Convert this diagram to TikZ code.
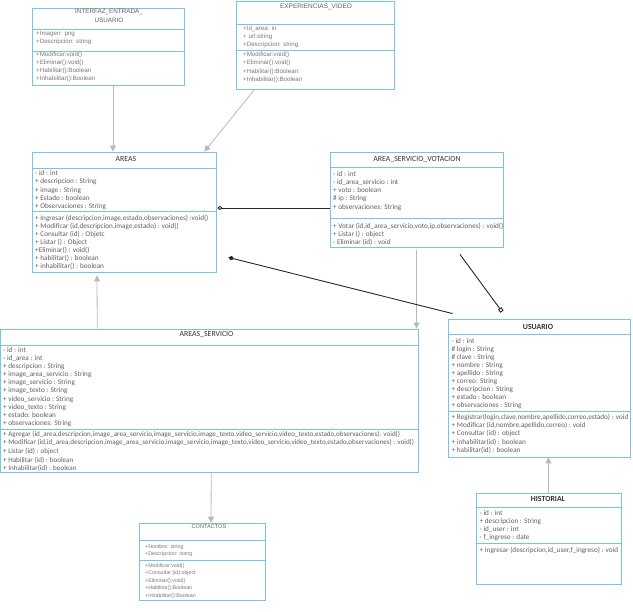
\documentclass[tikz,border=0pt]{standalone}
\usepackage{fontspec}
\setmainfont{Carlito}
\newfontfamily\arialfont{Liberation Sans}
\usetikzlibrary{arrows.meta}
\definecolor{boxblue}{RGB}{120,195,232}
\definecolor{textgrey}{RGB}{95,95,95}
\definecolor{linkgrey}{RGB}{185,185,185}

\begin{document}
\begin{tikzpicture}[x=1pt, y=-1pt,
    classbox/.style={draw=boxblue, line width=0.8pt, inner sep=0pt},
    classline/.style={draw=boxblue, line width=0.8pt},
    classname/.style={inner sep=0pt, text=black!80, font=\fontsize{7.8}{8}\selectfont},
    thin classname/.style={inner sep=0pt, align=center, text=textgrey, font=\arialfont\fontsize{6.3}{8.3}\selectfont},
    members/.style={anchor=base west, align=left, inner sep=0pt, text=textgrey, font=\fontsize{7.2}{8.1}\selectfont},
    thin members/.style={anchor=base west, align=left, inner sep=0pt, text=textgrey!85, font=\arialfont\fontsize{6.2}{8.3}\selectfont},
    inherit/.style={draw=linkgrey, line width=0.8pt, -{Triangle[length=6pt,width=6pt]}},
    assoc/.style={draw=black!85, line width=0.9pt}]
    \useasboundingbox (0,0) rectangle (633,612);

    % INTERFAZ_ENTRADA_USUARIO
    \node[classbox, minimum width=152pt, minimum height=77pt] (interfaz) at (108,46.5) {};
    \draw[classline] (interfaz.west |- 0,29) -- (interfaz.east |- 0,29);
    \draw[classline] (interfaz.west |- 0,51) -- (interfaz.east |- 0,51);
    \node[thin classname] (interfaz name) at (109,16) {INTERFAZ\_ENTRADA\_\\USUARIO};
    \node[thin members] (interfaz attrs) at (36,43.5) {+Imagen: png\\+Descripcion: string};
    \node[thin members, font=\arialfont\fontsize{6.2}{7.8}\selectfont] (interfaz ops) at (36,80.4)
        {+Modificar:void()\\+Eliminar():void()\\+Habilitar():Boolean\\+Inhabilitar():Boolean};

    % EXPERIENCIAS_VIDEO
    \node[classbox, minimum width=158pt, minimum height=87.5pt] (exper) at (315,45.25) {};
    \draw[classline] (exper.west |- 0,24) -- (exper.east |- 0,24);
    \draw[classline] (exper.west |- 0,50) -- (exper.east |- 0,50);
    \node[thin classname, font=\arialfont\fontsize{6.5}{8.3}\selectfont] (exper name) at (316,7) {EXPERIENCIAS\_VIDEO};
    \node[thin members, font=\arialfont\fontsize{6.2}{8.4}\selectfont] (exper attrs) at (243,47)
        {+Id\_area: in\\+ url:string\\+Descripcion: string};
    \node[thin members, font=\arialfont\fontsize{6.2}{8.6}\selectfont] (exper ops) at (243,82)
        {+Modificar:void()\\+Eliminar():void()\\+Habilitar():Boolean\\+Inhabilitar():Boolean};

    % AREAS
    \node[classbox, minimum width=184pt, minimum height=120pt] (areas) at (124,212) {};
    \draw[classline] (areas.west |- 0,168) -- (areas.east |- 0,168);
    \draw[classline] (areas.west |- 0,211) -- (areas.east |- 0,211);
    \node[classname] (areas name) at (126,159) {AREAS};
    \node[members, font=\fontsize{7.2}{8.4}\selectfont] (areas attrs) at (35,209)
        {- id : int\\+ descripcion : String\\+ image : String\\+ Estado : boolean\\+ Observaciones : String};
    \node[members, font=\fontsize{7.2}{7.95}\selectfont] (areas ops) at (35,268.7)
        {+ Ingresar (descripcion,image,estado,observaciones) :void()\\
         + Modificar (id,descripcion,image,estado) : void()\\
         + Consultar (id) : Objetc\\+ Listar () : Object\\+Eliminar() : void()\\
         + habilitar() : boolean\\+ inhabilitar() : boolean};

    % AREA_SERVICIO_VOTACION
    \node[classbox, minimum width=173pt, minimum height=95pt] (asv) at (416.5,199.5) {};
    \draw[classline] (asv.west |- 0,167) -- (asv.east |- 0,167);
    \draw[classline] (asv.west |- 0,218) -- (asv.east |- 0,218);
    \node[classname] (asv name) at (417,159.5) {AREA\_SERVICIO\_VOTACION};
    \node[members, font=\fontsize{7.2}{8.2}\selectfont] (asv attrs) at (333,209.1)
        {- id : int\\- id\_area\_servicio : int\\+ voto : boolean\\\# ip : String\\+ observaciones: String};
    \node[members, font=\fontsize{7.2}{8}\selectfont] (asv ops) at (333,244.3)
        {+ Votar (id,id\_area\_servicio,voto,ip,observaciones) : void()\\+ Listar () : object\\- Eliminar (id) : void};

    % AREAS_SERVICIO
    \node[classbox, minimum width=417.5pt, minimum height=143pt] (aserv) at (209.25,400.5) {};
    \draw[classline] (aserv.west |- 0,345) -- (aserv.east |- 0,345);
    \draw[classline] (aserv.west |- 0,429) -- (aserv.east |- 0,429);
    \node[classname] (aserv name) at (206.5,334.5) {AREAS\_SERVICIO};
    \node[members, font=\fontsize{7.2}{8.15}\selectfont] (aserv attrs) at (3,425.6)
        {- id : int\\- id\_area : int\\+ descripcion : String\\+ image\_area\_servicio : String\\
         + image\_servicio : String\\+ image\_texto : String\\+ video\_servicio : String\\
         + video\_texto : String\\+ estado: boolean\\+ observaciones: String};
    \node[members, font=\fontsize{7.1}{8.6}\selectfont] (aserv ops) at (3,470.7)
        {+ Agregar (id\_area,descripcion,image\_area\_servicio,image\_servicio,image\_texto,video\_servicio,video\_texto,estado,observaciones): void()\\
         + Modificar (id,id\_area,descripcion,image\_area\_servicio,image\_servicio,image\_texto,video\_servicio,video\_texto,estado,observaciones) : void()\\
         + Listar (id) : object\\+ Habilitar (id) : boolean\\+ Inhabilitar(id) : boolean};

    % USUARIO
    \node[classbox, minimum width=182pt, minimum height=138pt] (usuario) at (539,388) {};
    \draw[classline] (usuario.west |- 0,334) -- (usuario.east |- 0,334);
    \draw[classline] (usuario.west |- 0,411) -- (usuario.east |- 0,411);
    \node[classname, font=\bfseries\fontsize{7.8}{8}\selectfont] (usuario name) at (538,326.5) {USUARIO};
    \node[members, font=\fontsize{7.2}{8}\selectfont] (usuario attrs) at (451.5,407.3)
        {- id : int\\\# login : String\\\# clave : String\\+ nombre : String\\+ apellido : String\\
         + correo: String\\+ descripcion : String\\+ estado : boolean\\+ observaciones : String};
    \node[members, font=\fontsize{7.2}{8.25}\selectfont] (usuario ops) at (451.5,452.3)
        {+ Registrar(login,clave,nombre,apellido,correo,estado) : void\\
         + Modificar (id,nombre,apellido,correo) : void\\+ Consultar (id) : object\\
         + inhabilitar(id) : boolean\\+ habilitar(id) : boolean};

    % HISTORIAL
    \node[classbox, minimum width=145pt, minimum height=91pt] (historial) at (548.5,538.5) {};
    \draw[classline] (historial.west |- 0,507) -- (historial.east |- 0,507);
    \draw[classline] (historial.west |- 0,543) -- (historial.east |- 0,543);
    \node[classname, font=\bfseries\fontsize{7.8}{8}\selectfont] (historial name) at (548,499) {HISTORIAL};
    \node[members] (historial attrs) at (479.5,539.9)
        {- id : int\\+ descripcion : String\\- id\_user : int\\- f\_ingreso : date};
    \node[members] (historial ops) at (479.5,553) {+ Ingresar (descripcion,id\_user,f\_ingreso) : void};

    % CONTACTOS
    \node[classbox, line width=0.6pt, minimum width=126pt, minimum height=77pt] (contactos) at (202,561.5) {};
    \draw[classline, line width=0.6pt] (contactos.west |- 0,540) -- (contactos.east |- 0,540);
    \draw[classline, line width=0.6pt] (contactos.west |- 0,560) -- (contactos.east |- 0,560);
    \node[thin classname, font=\arialfont\fontsize{5.6}{6}\selectfont] (contactos name) at (209,527) {CONTACTOS};
    \node[thin members, font=\arialfont\fontsize{5.3}{7.6}\selectfont] (contactos attrs) at (145,555.8)
        {+Nombre: string\\+Descripcion: string};
    \node[thin members, font=\arialfont\fontsize{5.3}{7.5}\selectfont] (contactos ops) at (145,597.5)
        {+Modificar:void()\\+Consultar (id):object\\+Eliminar():void()\\+Habilitar():Boolean\\+Inhabilitar():Boolean};

    % Generalisations
    \draw[inherit] ([xshift=5pt]interfaz.south) -- ([xshift=-11pt]areas.north);
    \draw[inherit] ([xshift=19pt]exper.south west) -- ([xshift=-12pt]areas.north east);
    \draw[inherit] ([xshift=-112pt]aserv.north) -- ([xshift=-27pt,yshift=-3pt]areas.south);
    \draw[inherit] ([yshift=-3pt]asv.south) -- (asv.south |- aserv.north);
    \draw[inherit] ([xshift=2pt]aserv.south) -- ([xshift=9pt]contactos.north);
    \draw[inherit] (historial.north) -- (historial.north |- usuario.south);

    % Associations
    \draw[assoc, {Diamond[open,length=5pt,width=4.5pt]}-] ([xshift=1pt,yshift=4pt]areas.east) -- ([yshift=4pt]areas.east -| asv.west);
    \draw[assoc, -{Square[open,length=4pt,width=4pt]}] ([shift={(43.5pt,-7pt)}]asv.south) -- ([shift={(-37pt,7pt)}]usuario.north);
    \draw[assoc, {Diamond[length=6pt,width=4.5pt]}-] ([shift={(12pt,15pt)}]areas.south east) -- ([shift={(5pt,5pt)}]usuario.north west);
\end{tikzpicture}
\end{document}
